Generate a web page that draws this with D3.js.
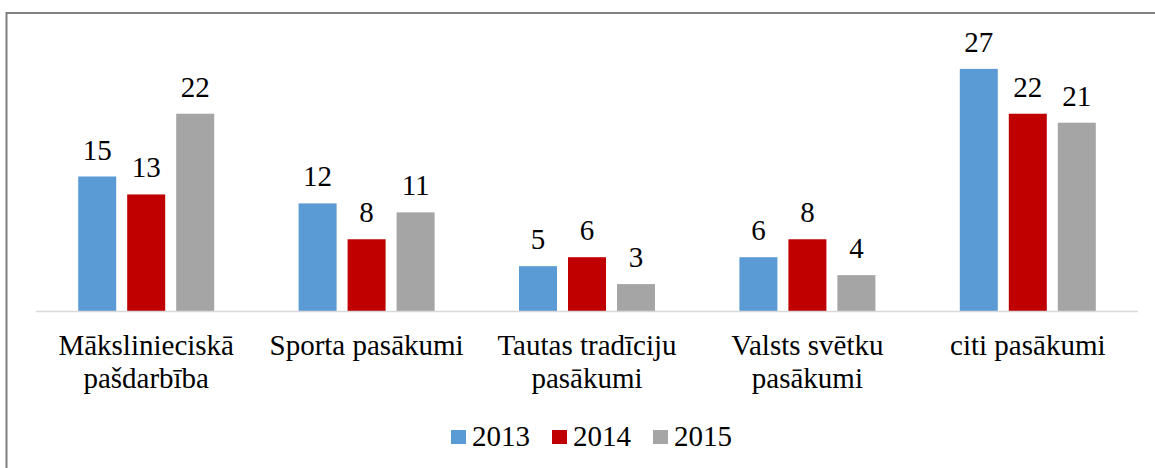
<!DOCTYPE html>
<html><head><meta charset="utf-8">
<script src="https://cdn.jsdelivr.net/npm/d3@7"></script>
</head><body style="margin:0">
<svg id="c" width="1155" height="468" font-family="Liberation Serif" style="font-family:'Liberation Serif', 'Times New Roman', serif"></svg>
<script>
const categories = ["Mākslinieciskā pašdarbība", "Sporta pasākumi", "Tautas tradīciju pasākumi", "Valsts svētku pasākumi", "citi pasākumi"];
const categoryLines = [["Mākslinieciskā", "pašdarbība"], ["Sporta pasākumi"], ["Tautas tradīciju", "pasākumi"], ["Valsts svētku", "pasākumi"], ["citi pasākumi"]];
const seriesNames = ["2013", "2014", "2015"];
const values2013 = [15, 12, 5, 6, 27];
const values2014 = [13, 8, 6, 8, 22];
const values2015 = [22, 11, 3, 4, 21];
const colors = ["#5B9BD5", "#C00000", "#A5A5A5"];

const series = [values2013, values2014, values2015];
const svg = d3.select("#c");
const font = "Times New Roman";
const fs = "29px";

// outer border (only top/left visible)
svg.append("rect").attr("x", 6.5).attr("y", 13).attr("width", 1200).attr("height", 500)
  .attr("fill", "none").attr("stroke", "#808080").attr("stroke-width", 2);

const x0 = d3.scaleBand().domain(categories).range([36, 1138]);
const x1 = d3.scaleBand().domain(seriesNames).range([0, 136]).paddingInner(11/49).paddingOuter(0);
const y = d3.scaleLinear().domain([0, 30]).range([311, 42]);

const g = svg.append("g");
categories.forEach((c, i) => {
  const cx = x0(c) + x0.bandwidth() / 2;
  const gx = cx - 68;
  seriesNames.forEach((s, j) => {
    const v = series[j][i];
    g.append("rect").attr("x", gx + x1(s)).attr("y", y(v))
      .attr("width", x1.bandwidth()).attr("height", y(0) - y(v)).attr("fill", colors[j]);
    g.append("text").attr("x", gx + x1(s) + x1.bandwidth() / 2).attr("y", y(v) - 17)
      .attr("text-anchor", "middle").style("font-family", font).style("font-size", fs)
      .attr("fill", "#000").text(v);
  });
  categoryLines[i].forEach((ln, k) => {
    g.append("text").attr("x", cx).attr("y", 355 + k * 33).attr("text-anchor", "middle")
      .style("font-family", font).style("font-size", fs).attr("fill", "#000").text(ln);
  });
});

// axis line
svg.append("line").attr("x1", 36).attr("x2", 1138).attr("y1", 311.5).attr("y2", 311.5)
  .attr("stroke", "#D9D9D9").attr("stroke-width", 1.5);

// legend
const legendX = [451, 552, 653];
seriesNames.forEach((s, j) => {
  svg.append("rect").attr("x", legendX[j]).attr("y", 430).attr("width", 15).attr("height", 14).attr("fill", colors[j]);
  svg.append("text").attr("x", legendX[j] + 21).attr("y", 446).style("font-family", font)
    .style("font-size", fs).attr("fill", "#000").text(s);
});
</script>
</body></html>
